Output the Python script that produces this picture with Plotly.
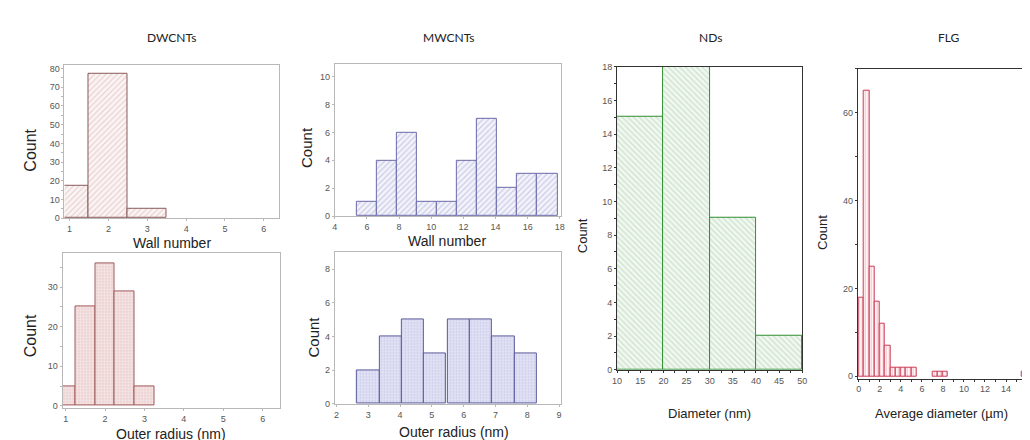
import plotly.graph_objects as go

# ---------------- data ----------------
dw_wall_x = [1, 2, 3]
dw_wall_count = [17.5, 77, 5]

dw_rad_x = [1.0, 1.5, 2.0, 2.5, 3.0]
dw_rad_count = [5, 25, 36, 29, 5]

mw_wall_x = [5.975, 7.225, 8.475, 9.725, 10.975, 12.225, 13.475, 14.725, 15.975, 17.225]
mw_wall_count = [1, 4, 6, 1, 1, 4, 7, 2, 3, 3]

mw_rad_x = [3.0, 3.7, 4.4, 5.1, 5.85, 6.55, 7.25, 7.95]
mw_rad_count = [2, 4, 5, 3, 5, 5, 4, 3]

nd_x = [15, 25, 35, 45]
nd_count = [15, 18, 9, 2]

flg_x = [0.25, 0.75, 1.25, 1.75, 2.25, 2.75, 3.25, 3.75, 4.25, 4.75, 5.25,
         7.25, 7.75, 8.25, 15.75]
flg_count = [18, 65, 25, 17, 12, 7, 2, 2, 2, 2, 2, 1, 1, 1, 1]

titles = ["DWCNTs", "MWCNTs", "NDs", "FLG"]

W, H = 1030, 440


def px(x):
    return x / W


def py(y):
    return 1 - y / H


fig = go.Figure()

fig.add_trace(go.Bar(x=dw_wall_x, y=dw_wall_count, width=1.0, xaxis="x", yaxis="y",
                     marker=dict(color="#ffffff", line=dict(color="#8a5a5a", width=1),
                                 pattern=dict(shape="/", fgcolor="#cfa0a0", bgcolor="#fbf4f4",
                                              size=4, solidity=0.25))))
fig.add_trace(go.Bar(x=dw_rad_x, y=dw_rad_count, width=0.5, xaxis="x2", yaxis="y2",
                     marker=dict(color="#f3dede", line=dict(color="#a05a5a", width=1),
                                 pattern=dict(shape=".", fgcolor="#cfa2a2", bgcolor="#f6e6e6",
                                              size=3, solidity=0.3))))
fig.add_trace(go.Bar(x=mw_wall_x, y=mw_wall_count, width=1.25, xaxis="x3", yaxis="y3",
                     marker=dict(color="#ffffff", line=dict(color="#6a6aa8", width=1),
                                 pattern=dict(shape="/", fgcolor="#a4a4d2", bgcolor="#f3f3fb",
                                              size=4, solidity=0.3))))
fig.add_trace(go.Bar(x=mw_rad_x, y=mw_rad_count, width=0.7, xaxis="x4", yaxis="y4",
                     marker=dict(color="#dcdcf4", line=dict(color="#5a5a9a", width=1),
                                 pattern=dict(shape=".", fgcolor="#ababd8", bgcolor="#e3e3f6",
                                              size=3, solidity=0.3))))
fig.add_trace(go.Bar(x=nd_x, y=nd_count, width=10, xaxis="x5", yaxis="y5",
                     marker=dict(color="#ffffff", line=dict(color="#2f8f2f", width=1),
                                 pattern=dict(shape="\\", fgcolor="#a6c9a6", bgcolor="#f1f8f1",
                                              size=4, solidity=0.3))))
fig.add_trace(go.Bar(x=flg_x, y=flg_count, width=0.5, xaxis="x6", yaxis="y6",
                     marker=dict(color="#ffffff", line=dict(color="#cc3a55", width=1),
                                 pattern=dict(shape="|", fgcolor="#e89aa8", bgcolor="#fff4f6",
                                              size=3, solidity=0.35))))

light = "#b8b8b8"
dark = "#333333"
tickfont = dict(family="Liberation Sans, Arial, sans-serif", size=9, color="#555555")


def ax(domain, rng, dtick, anchor, lc, minor=None):
    d = dict(domain=domain, range=rng, dtick=dtick, tick0=0, anchor=anchor,
             showline=True, linecolor=lc, linewidth=1, mirror=True,
             ticks="outside", ticklen=2, tickcolor=lc, tickfont=tickfont,
             showgrid=False, zeroline=False, fixedrange=True)
    if minor:
        d["minor"] = minor
    return d


def mn(dt, c):
    return dict(dtick=dt, ticks="outside", ticklen=2, tickcolor=c, showgrid=False)


layout = dict(
    width=W, height=H, margin=dict(l=0, r=0, t=0, b=0),
    paper_bgcolor="white", plot_bgcolor="white", showlegend=False, bargap=0,
    xaxis=ax([px(52), px(269)], [0.87, 6.4], 1, "y", light),
    yaxis=ax([py(210), py(53)], [0, 82], 10, "x", light, mn(5, light)),
    xaxis2=ax([px(50), px(270)], [0.92, 6.45], 1, "y2", light),
    yaxis2=ax([py(404), py(246)], [-0.5, 38.5], 10, "x2", light, mn(5, light)),
    xaxis3=ax([px(325), px(553)], [4.0, 18.05], 2, "y3", light),
    yaxis3=ax([py(208), py(52)], [0, 10.9], 2, "x3", light),
    xaxis4=ax([px(325), px(553)], [1.95, 9.05], 1, "y4", light),
    yaxis4=ax([py(400), py(245)], [0, 9], 2, "x4", light),
    xaxis5=ax([px(610), px(797)], [10, 50], 5, "y5", dark, mn(2.5, dark)),
    yaxis5=ax([py(365), py(55)], [0, 18], 2, "x5", dark, mn(1, dark)),
    xaxis6=ax([px(853), px(1024)], [-0.1, 16], 2, "y6", dark, mn(1, dark)),
    yaxis6=ax([py(374), py(57)], [-0.5, 70], 20, "x6", dark, mn(10, dark)),
)
fig.update_layout(**layout)

ann = []
title_pos = [(160, 25), (440, 25), (704, 25), (945, 25)]
for t, (x, y) in zip(titles, title_pos):
    ann.append(dict(text=t, x=px(x), y=py(y), xref="paper", yref="paper", showarrow=False,
                    font=dict(family="Lato, Open Sans, sans-serif", size=12, color="#222222"),
                    xanchor="center", yanchor="middle"))

axis_titles = [
    ("Count", 18, 140, -90, 16),
    ("Wall number", 161, 235, 0, 14),
    ("Count", 18, 330, -90, 16),
    ("Outer radius (nm)", 160, 431, 0, 14),
    ("Count", 297, 138, -90, 15),
    ("Wall number", 438, 233, 0, 14),
    ("Count", 303, 332, -90, 15),
    ("Outer radius (nm)", 445, 429, 0, 14),
    ("Count", 575, 228, -90, 13),
    ("Diameter (nm)", 703, 410, 0, 13),
    ("Count", 818, 225, -90, 13),
    ("Average diameter (\u00b5m)", 938, 410, 0, 13),
]
for t, x, y, ang, sz in axis_titles:
    ann.append(dict(text=t, x=px(x), y=py(y), xref="paper", yref="paper", showarrow=False,
                    textangle=ang, xanchor="center", yanchor="middle",
                    font=dict(family="Liberation Sans, Arial, sans-serif", size=sz, color="#222222")))

fig.update_layout(annotations=ann)

fig.write_html("out.html")
